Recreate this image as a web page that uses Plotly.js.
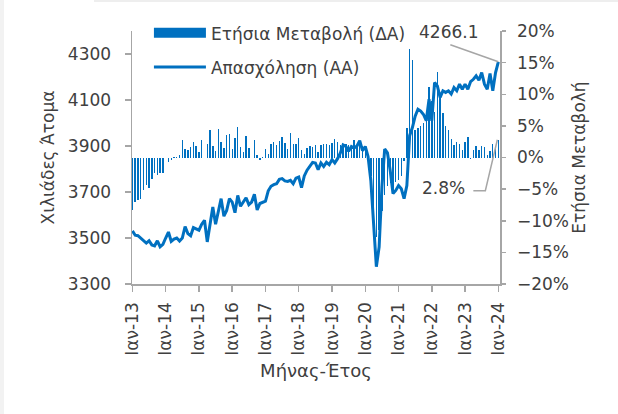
<!DOCTYPE html>
<html>
<head>
<meta charset="utf-8">
<script src="https://cdn.plot.ly/plotly-3.0.1.min.js"></script>
<style>
html,body{margin:0;padding:0;background:#ffffff;}
#wrap{position:relative;width:618px;height:414px;overflow:hidden;}
#sl{position:absolute;left:0;top:0;width:4px;height:414px;background:#f2f2f2;}
#st{position:absolute;left:94px;top:0;width:524px;height:2px;background:#eeeeee;}
#chart{position:absolute;left:0;top:0;width:618px;height:414px;}
</style>
</head>
<body>
<div id="wrap"><div id="sl"></div><div id="st"></div><div id="chart"></div></div>
<script>
// Months Jan-2013 .. Jan-2024 (index 0..132)
const tickYears = ['13','14','15','16','17','18','19','20','21','22','23','24'];
const tickLabels = tickYears.map(y => 'Ιαν-' + y);

// Employment, thousands of persons (left axis)
const employment = [
  3531, 3512, 3510, 3500, 3490, 3478, 3488, 3470, 3466, 3488, 3462, 3472,
  3500, 3526, 3485, 3495, 3500, 3487, 3500, 3550, 3519, 3510, 3545, 3540,
  3534, 3560, 3577, 3483, 3562, 3635, 3560, 3610, 3671, 3595, 3620, 3671,
  3656, 3610, 3685, 3638, 3656, 3675, 3645, 3656, 3690, 3622, 3650, 3656,
  3660, 3705, 3725, 3732, 3736, 3755, 3758, 3748, 3746, 3751, 3736, 3760,
  3765, 3719, 3770, 3795, 3810, 3829, 3826, 3797, 3826, 3811, 3829, 3819,
  3841, 3826, 3845, 3870, 3905, 3898, 3877, 3898, 3891, 3900, 3923, 3880,
  3898, 3854, 3750, 3577, 3375, 3461, 3721, 3887, 3870, 3793, 3693, 3707,
  3728, 3714, 3671, 3728, 3945, 3980, 4030, 4060, 4052, 4037, 4010, 4104,
  4010, 4176, 4161, 4111, 4140, 4133, 4140, 4126, 4154, 4140, 4169, 4147,
  4169, 4147, 4180, 4190, 4205, 4186, 4219, 4169, 4147, 4215, 4140, 4219,
  4266.1
];

// Annual change, % (right axis)
const annualChange = [
  -8.3, -7.0, -6.7, -6.5, -5.1, -4.3, -4.9, -3.4, -2.4, -2.8, -2.5, -2.5,
  -0.1, -0.7, -0.4, 0.1, 0.1, 0.4, 2.7, 1.3, 1.2, 1.6, 2.5, 1.8,
  0.9, 2.7, -0.1, 2.1, 4.3, 1.8, 1.0, 4.5, 2.4, 1.5, 3.6, 3.7,
  1.4, 3.1, 4.8, 1.6, 0.8, 3.4, 1.5, -0.1, 2.8, 0.4, -0.4, 0.1,
  1.3, 0.5, 2.2, 2.5, 2.0, 2.6, 3.3, 2.3, 1.4, 3.8, 2.2, 2.1,
  3.1, 1.2, 0.6, 1.5, 1.8, 1.7, 2.0, 0.9, 2.0, 2.1, 2.2, 2.0,
  2.3, 2.9, 2.5, 2.0, 2.2, 2.1, 2.0, 1.8, 2.7, 1.7, 2.0, 1.8,
  1.4, 0.6, -3.0, -9.0, -12.5, -11.5, -8.5, -6.0, -4.5, -4.0, -5.0, -3.8,
  -3.5, -3.0, -0.5, 4.6, 17.1, 15.4, 4.3, 4.6, 5.0, 5.5, 7.0, 11.2,
  9.0, 7.2, 13.5, 9.6, 7.0, 5.0, 4.3, 3.0, 2.0, 2.5, 2.2, 1.2,
  2.5, 3.3, -0.2, 1.2, 1.8, 1.2, 1.8, 1.7, 0.4, 1.0, 2.2, 1.5,
  2.8
];

const months = employment.map((_, i) => i);
const tickVals = tickYears.map((_, k) => k * 12);
const lastIdx = months[months.length - 1];
const lastEmp = employment[employment.length - 1];
const lastChg = annualChange[annualChange.length - 1];

const FONT = 'DejaVu Sans, sans-serif';
const TXT = '#404040';
const AX = '#a6a6a6';
const BLUE = '#0070C0';

const traces = [
  {type: 'bar', x: months, y: annualChange, yaxis: 'y', marker: {color: BLUE, line: {width: 0}},
   width: 0.5, showlegend: false, hoverinfo: 'skip'},
  {type: 'scatter', mode: 'lines', x: [null], y: [null], yaxis: 'y',
   name: 'Ετήσια Μεταβολή (ΔΑ)', line: {color: BLUE, width: 10}, legendgroup: 'a'},
  {type: 'scatter', mode: 'lines', x: months, y: employment, yaxis: 'y2',
   name: 'Απασχόληση (ΑΑ)', line: {color: BLUE, width: 3}, legendgroup: 'b'}
];

const layout = {
  width: 618, height: 414,
  margin: {l: 132, r: 118, t: 31, b: 130},
  paper_bgcolor: 'rgba(0,0,0,0)', plot_bgcolor: 'rgba(0,0,0,0)',
  font: {family: FONT, size: 17, color: TXT},
  bargap: 0,
  xaxis: {range: [-0.15, 132.6], tickvals: tickVals, ticktext: tickLabels, tickangle: -90,
          showgrid: false, zeroline: false, showline: true, linecolor: AX, linewidth: 1.5,
          ticks: 'outside', ticklen: 6, tickcolor: AX, tickwidth: 1.5, ticklabelstandoff: 4,
          tickfont: {size: 17, color: TXT},
          title: {text: 'Μήνας-Έτος', font: {size: 18, color: TXT}, standoff: 9}},
  yaxis: {side: 'right', range: [-20, 20], dtick: 5, tick0: 0, ticksuffix: '%',
          showgrid: false, zeroline: false, showline: true, linecolor: AX, linewidth: 1.5,
          ticks: 'outside', ticklen: 4, tickcolor: AX, tickwidth: 1.5, ticklabelstandoff: 8,
          tickfont: {size: 17, color: TXT},
          title: {text: 'Ετήσια Μεταβολή', font: {size: 17, color: TXT}, standoff: 3}},
  yaxis2: {overlaying: 'y', side: 'left', range: [3300, 4400], tickvals: [3300, 3500, 3700, 3900, 4100, 4300],
           showgrid: false, zeroline: false, showline: true, linecolor: AX, linewidth: 1.5,
           ticks: 'outside', ticklen: 6, tickcolor: AX, tickwidth: 1.5, ticklabelstandoff: 10,
           tickfont: {size: 17, color: TXT},
           title: {text: 'Χιλιάδες Άτομα', font: {size: 17, color: TXT}, standoff: 9}},
  legend: {x: 0.046, xanchor: 'left', y: 1.062, yanchor: 'top', bgcolor: 'rgba(0,0,0,0)',
           itemwidth: 52, tracegroupgap: 9, traceorder: 'grouped', font: {size: 17, color: TXT}},
  shapes: [
    {type: 'line', xref: 'x', yref: 'y2', xsizemode: 'pixel', ysizemode: 'pixel',
     xanchor: lastIdx, yanchor: lastEmp, x0: -48, x1: 0, y0: 17, y1: 0,
     line: {color: AX, width: 1.5}},
    {type: 'path', xref: 'x', yref: 'y', xsizemode: 'pixel', ysizemode: 'pixel',
     xanchor: lastIdx, yanchor: lastChg, path: 'M-25,-51 L-13,-51 L-1,0',
     line: {color: AX, width: 1.5}}
  ],
  annotations: [
    {xref: 'x', yref: 'y2', x: lastIdx, y: lastEmp, text: lastEmp.toFixed(1),
     showarrow: true, arrowcolor: 'rgba(0,0,0,0)', ax: -50, ay: -30, font: {size: 17, color: TXT}},
    {xref: 'x', yref: 'y', x: lastIdx, y: lastChg, text: lastChg.toFixed(1) + '%',
     showarrow: true, arrowcolor: 'rgba(0,0,0,0)', ax: -55, ay: 48, font: {size: 17, color: TXT}}
  ]
};

Plotly.newPlot('chart', traces, layout, {staticPlot: true, displayModeBar: false});
</script>
</body>
</html>
